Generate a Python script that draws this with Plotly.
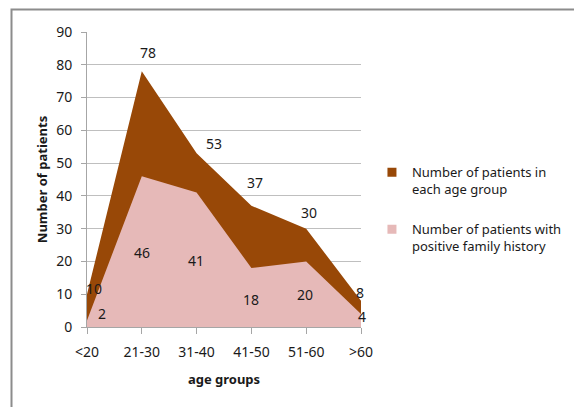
import plotly.graph_objects as go

categories = ["<20", "21-30", "31-40", "41-50", "51-60", ">60"]
total_patients = [10, 78, 53, 37, 30, 8]
family_history = [2, 46, 41, 18, 20, 4]
series_names = ["Number of patients in<br>each age group",
                "Number of patients with<br>positive family history"]
y_ticks = [0, 10, 20, 30, 40, 50, 60, 70, 80, 90]

BROWN = "#984807"
PINK = "#E6B9B8"
FONT = "Noto Sans"
TXT = "#1a1a1a"

# label pixel offsets (x, y-up)
total_offsets = [(7, 6), (6, 19), (17, 10), (4, 23), (3, 16), (-1, 8)]
family_offsets = [(15, 7), (0, -76), (-1, -68), (0, -31), (-1, -33), (1, -3)]

xs = list(range(len(categories)))

fig = go.Figure()
fig.add_trace(go.Scatter(x=xs, y=total_patients, mode="lines", fill="tozeroy",
                         fillcolor=BROWN, line=dict(width=0, color=BROWN),
                         showlegend=False, hoverinfo="skip"))
fig.add_trace(go.Scatter(x=xs, y=family_history, mode="lines", fill="tozeroy",
                         fillcolor=PINK, line=dict(width=0, color=PINK),
                         showlegend=False, hoverinfo="skip"))
# legend entries
for name, col, grp in [(series_names[0], BROWN, "a"), (series_names[1], PINK, "b")]:
    fig.add_trace(go.Scatter(x=[None], y=[None], mode="markers", name=name,
                             legendgroup=grp,
                             marker=dict(symbol="square", size=9, color=col)))

annotations = []
for i, (v, off) in enumerate(zip(total_patients, total_offsets)):
    annotations.append(dict(x=xs[i], y=v, text=str(v), showarrow=False,
                            xshift=off[0], yshift=off[1],
                            font=dict(family=FONT, size=14, color=TXT)))
for i, (v, off) in enumerate(zip(family_history, family_offsets)):
    annotations.append(dict(x=xs[i], y=v, text=str(v), showarrow=False,
                            xshift=off[0], yshift=off[1],
                            font=dict(family=FONT, size=14, color=TXT)))

fig.update_layout(
    width=574, height=407,
    margin=dict(l=87, r=213, t=32, b=80, autoexpand=False),
    paper_bgcolor="white", plot_bgcolor="white",
    font=dict(family=FONT, size=14, color=TXT),
    annotations=annotations,
    legend=dict(x=1.04, y=0.575, xanchor="left", yanchor="top",
                font=dict(family=FONT, size=13, color=TXT),
                tracegroupgap=20, valign="top", itemwidth=30,
                bgcolor="rgba(0,0,0,0)"),
    shapes=[dict(type="rect", xref="paper", yref="paper",
                 x0=(11.5 - 87) / 274, x1=(590 - 87) / 274,
                 y0=(327 - 420) / 295, y1=(327 - 9.5) / 295,
                 line=dict(color="#8c8c8c", width=2), layer="below")],
)
fig.update_xaxes(range=[0, 5], tickmode="array", tickvals=xs, ticktext=categories,
                 showgrid=False, showline=True, linecolor="#a6a6a6", linewidth=1,
                 ticks="outside", ticklen=6, tickcolor="#a6a6a6",
                 ticklabelstandoff=6,
                 tickfont=dict(family=FONT, size=14, color=TXT),
                 title=dict(text="<b>age groups</b>", standoff=15,
                            font=dict(family=FONT, size=13, color=TXT)),
                 zeroline=False, fixedrange=True)
fig.update_yaxes(range=[0, 90], tickvals=y_ticks,
                 showgrid=True, gridcolor="#bfbfbf", gridwidth=1,
                 showline=True, linecolor="#a6a6a6", linewidth=1,
                 ticks="outside", ticklen=5, tickcolor="#a6a6a6",
                 ticklabelstandoff=6,
                 tickfont=dict(family=FONT, size=14, color=TXT),
                 title=dict(text="<b>Number of patients</b>", standoff=5,
                            font=dict(family=FONT, size=13, color=TXT)),
                 zeroline=False, fixedrange=True)

fig.write_html("out.html")
